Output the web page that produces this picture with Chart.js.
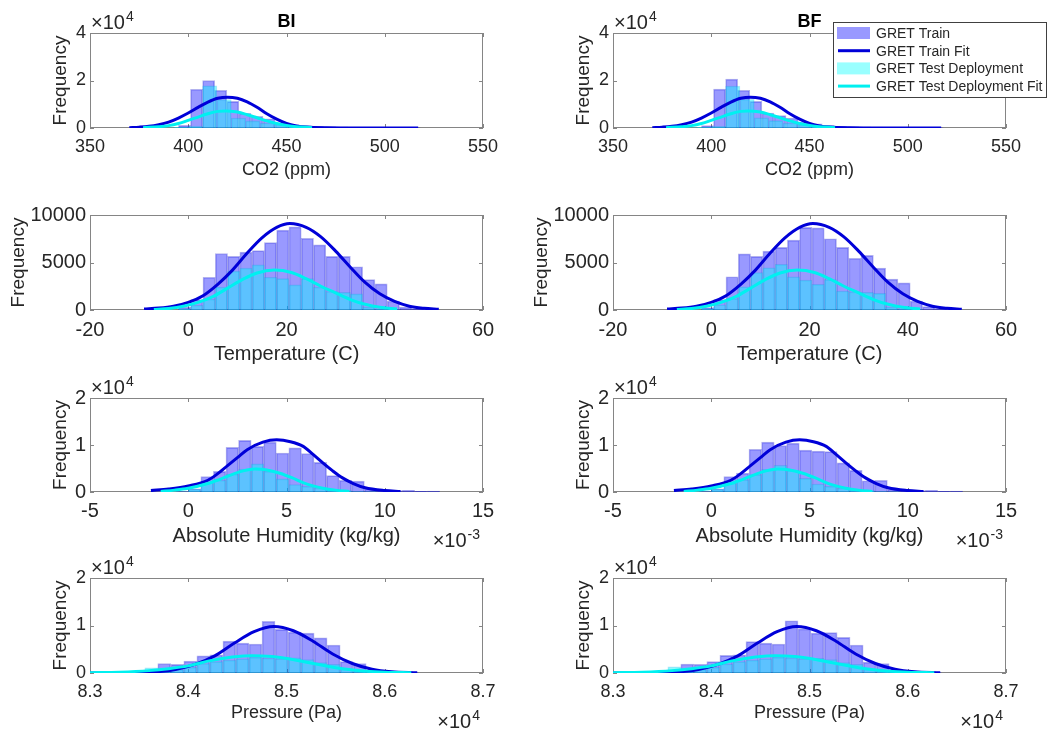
<!DOCTYPE html>
<html>
<head>
<meta charset="utf-8">
<script src="https://cdn.jsdelivr.net/npm/chart.js@4.4.1/dist/chart.umd.min.js"></script>
<style>
  html, body { margin: 0; padding: 0; background: #fff; }
  #fig { position: relative; width: 1060px; height: 730px; overflow: hidden; background: #fff; }
  #fig canvas { position: absolute; }
</style>
</head>
<body>
<div id="fig"></div>
<script>
// ---------- data ----------
// CO2 (ppm)
const co2TrainBins = [398.08, 404.23, 410.38, 416.53, 422.68, 428.83, 434.98, 441.13, 447.28, 453.43, 459.58, 465.73, 471.88, 478.03, 484.18, 490.33, 496.48, 502.63, 508.78, 514.93];
const co2TrainBI = [1100, 16300, 20000, 15900, 11200, 6200, 4900, 3900, 2200, 1400, 1000, 700, 600, 450, 350, 200, 150, 150, 100, 100];
const co2TrainBF = [1000, 16400, 20600, 15900, 11200, 6300, 5200, 4200, 2500, 1800, 1100, 700, 600, 450, 350, 200, 150, 150, 100, 100];
const co2TestBins = [389.05, 396.35, 403.65, 410.95, 418.25, 425.55, 432.85, 440.15, 447.45, 454.75, 462.05, 469.35, 476.65, 483.95, 491.25, 498.55, 505.85, 513.15];
const co2TestBI = [100, 300, 800, 17800, 12000, 4200, 3000, 2100, 1500, 900, 600, 400, 300, 200, 100, 100, 100, 50];
const co2TestBF = [100, 300, 700, 17700, 12100, 4300, 3100, 2100, 1500, 900, 600, 400, 300, 200, 100, 100, 100, 50];
const co2FitTrainX = [370, 375, 380, 385, 390, 395, 400, 405, 410, 415, 420, 425, 430, 435, 440, 445, 450, 455, 460, 470, 480, 490, 517];
const co2FitTrainY = [150, 350, 700, 1400, 2500, 4200, 6300, 8700, 10900, 12500, 13000, 12500, 11000, 8700, 6000, 3700, 1900, 900, 400, 80, 20, 0, 0];
const co2FitTestX = [377, 385, 390, 395, 400, 405, 410, 415, 419, 425, 430, 435, 440, 445, 450, 455, 463];
const co2FitTestY = [150, 550, 1000, 1900, 3200, 4600, 6000, 7000, 7200, 6700, 5600, 4300, 3000, 1900, 1100, 550, 150];

// Temperature (C)
const tempBins = [-0.75, 1.75, 4.25, 6.75, 9.25, 11.75, 14.25, 16.75, 19.25, 21.75, 24.25, 26.75, 29.25, 31.75, 34.25, 36.75, 39.25, 41.75, 44.25, 46.75];
const tempTrainBI = [300, 1100, 3450, 5950, 5650, 6100, 6250, 7100, 8400, 8750, 7550, 6850, 5650, 5650, 4550, 3200, 2750, 950, 300, 100];
const tempTrainBF = [250, 1100, 3500, 5900, 5650, 6200, 6600, 7350, 8700, 8650, 7500, 6600, 5450, 5750, 4400, 3250, 2850, 950, 350, 100];
const tempTestBI = [150, 500, 1150, 2400, 4100, 4400, 4750, 3450, 3300, 2650, 3300, 2400, 1950, 1850, 1700, 300, 100, 50, 0, 0];
const tempTestBF = [150, 550, 1200, 2450, 3950, 4450, 4800, 3500, 3150, 2700, 3200, 2000, 1900, 1850, 1750, 300, 100, 50, 0, 0];
const tempFitTrainX = [-9, -6, -3, 0, 3, 6, 9, 12, 15, 18, 20.7, 24, 27, 30, 33, 36, 39, 42, 45, 48, 51];
const tempFitTrainY = [100, 200, 400, 800, 1500, 2700, 4200, 6000, 7600, 8700, 9100, 8700, 7700, 6200, 4500, 2900, 1700, 900, 400, 180, 80];
const tempFitTestX = [-7, -4, -1, 2, 5, 8, 11, 14, 17.5, 21, 24, 27, 30, 33, 36, 39, 42.5];
const tempFitTestY = [60, 170, 400, 800, 1400, 2300, 3200, 3900, 4200, 3950, 3300, 2500, 1800, 1100, 600, 280, 100];

// Absolute humidity (x10^-3 kg/kg)
const humBins = [-0.32, 0.32, 0.96, 1.60, 2.24, 2.88, 3.52, 4.16, 4.80, 5.44, 6.08, 6.72, 7.36, 8.00, 8.64, 9.28, 9.92, 10.56, 11.20, 11.84, 12.48];
const humTrainBI = [100, 700, 3300, 4400, 9500, 11000, 9700, 10600, 8300, 9400, 8200, 6300, 3500, 2500, 2300, 650, 350, 300, 350, 150, 200];
const humTrainBF = [100, 700, 3300, 4000, 9100, 10600, 9900, 10400, 8900, 8700, 8600, 6200, 4600, 2400, 2500, 600, 350, 300, 350, 150, 200];
const humTestBI = [50, 600, 2000, 2500, 3800, 4900, 6000, 4400, 2800, 1600, 1200, 850, 500, 300, 100, 50, 0, 0, 0, 0, 0];
const humTestBF = [50, 600, 1900, 2600, 3700, 4800, 5700, 4600, 2900, 1700, 1200, 800, 500, 300, 100, 50, 0, 0, 0, 0, 0];
const humFitTrainX = [-1.9, -1, 0, 1, 1.5, 2, 2.5, 3, 3.8, 4.5, 5.2, 5.85, 6.35, 6.85, 7.35, 7.85, 8.4, 9, 10, 10.8];
const humFitTrainY = [300, 650, 1300, 2500, 3900, 5600, 7300, 9000, 10600, 11100, 10700, 9700, 8000, 6200, 4500, 3000, 1800, 900, 300, 100];
const humFitTestX = [-1.4, -0.7, 0, 1, 1.6, 2.15, 2.8, 3.4, 4, 4.66, 5.3, 5.84, 6.35, 6.85, 7.5, 8.2];
const humFitTestY = [130, 400, 800, 1800, 2700, 3600, 4500, 4900, 4700, 4000, 3000, 2000, 1300, 800, 400, 130];

// Pressure (x10^4 Pa)
const presTrainBins = [8.3756, 8.3889, 8.4021, 8.4154, 8.4286, 8.4419, 8.4552, 8.4684, 8.4817, 8.4949, 8.5082, 8.5215, 8.5347, 8.5480, 8.5612, 8.5745, 8.5878, 8.6010, 8.6143, 8.6275];
const presTrainBI = [2000, 1800, 2500, 3600, 3800, 6700, 6300, 6100, 10900, 9200, 8600, 8400, 7400, 5900, 2400, 2000, 600, 350, 200, 100];
const presTrainBF = [1900, 1850, 2400, 3700, 3800, 6600, 6300, 6100, 11000, 9300, 8400, 8500, 7500, 5900, 2300, 2000, 600, 350, 200, 100];
const presTestBins = [8.3491, 8.3624, 8.3756, 8.3889, 8.4021, 8.4154, 8.4286, 8.4419, 8.4552, 8.4684, 8.4817, 8.4949, 8.5082, 8.5215, 8.5347, 8.5480, 8.5612, 8.5745, 8.5878, 8.6010];
const presTestBI = [400, 1100, 700, 700, 1200, 2000, 2400, 2700, 3000, 3300, 3100, 3000, 3200, 2800, 2200, 1800, 800, 400, 200, 100];
const presTestBF = [300, 1300, 700, 750, 1200, 1900, 2400, 2700, 3000, 3300, 3200, 3000, 3100, 2800, 2200, 1800, 800, 400, 200, 100];
const presFitTrainX = [8.30, 8.34, 8.367, 8.387, 8.407, 8.427, 8.447, 8.467, 8.487, 8.507, 8.527, 8.547, 8.567, 8.587, 8.607, 8.633];
const presFitTrainY = [0, 60, 240, 750, 1800, 3600, 6300, 8700, 9800, 8900, 6700, 4000, 2000, 800, 250, 40];
const presFitTestX = [8.30, 8.33, 8.36, 8.38, 8.40, 8.42, 8.445, 8.465, 8.485, 8.51, 8.53, 8.55, 8.57, 8.60, 8.627];
const presFitTestY = [40, 180, 500, 900, 1500, 2500, 3350, 3650, 3450, 2700, 1900, 1100, 600, 180, 50];

// axes text and ticks
const columnTitles = ['BI', 'BF'];
const legendLabels = ['GRET Train', 'GRET Train Fit', 'GRET Test Deployment', 'GRET Test Deployment Fit'];
const xTitles = ['CO2 (ppm)', 'Temperature (C)', 'Absolute Humidity (kg/kg)', 'Pressure (Pa)'];
const xRanges = [[350, 550, 50], [-20, 60, 20], [-5, 15, 5], [8.3, 8.7, 0.1]];
const yRanges = [[0, 40000, 20000], [0, 10000, 5000], [0, 20000, 10000], [0, 20000, 10000]];
const yExponents = ['4', null, '4', '4'];
const xExponents = [null, null, '-3', '4'];

// ---------- layout / style ----------
const FONT = '"Liberation Sans", Arial, Helvetica, sans-serif';
const TEXT = '#262626';
const AXIS = '#858585';
const trainFill = 'rgba(0, 0, 255, 0.4)';
const testFill = 'rgba(0, 255, 255, 0.4)';
const trainEdge = 'rgba(0, 0, 200, 0.3)';
const testEdge = 'rgba(0, 170, 230, 0.3)';
const trainLine = '#0000d8';
const testLine = '#00f0f0';

const rowLayout = [
  { band: [0, 184], plotTop: 33, plotBottom: 128, xTitleY: 170, yTitleGap: 29, tickSize: 18, xTitleSize: 18, tickPad: 8 },
  { band: [184, 368], plotTop: 215, plotBottom: 310, xTitleY: 354, yTitleGap: 71.5, tickSize: 20, xTitleSize: 20, tickPad: 8 },
  { band: [368, 556], plotTop: 398, plotBottom: 492, xTitleY: 536, yTitleGap: 29, tickSize: 20, xTitleSize: 20, tickPad: 7 },
  { band: [556, 730], plotTop: 578, plotBottom: 673, xTitleY: 713, yTitleGap: 29, tickSize: 18, xTitleSize: 18, tickPad: 8 }
];
const colLeft = [90, 613];
const PLOT_W = 393;
const Y_TITLE_SIZE = 19;
const EXP_SIZE = 20;

const panels = [
  { row: 0, col: 0, train: [co2TrainBins, co2TrainBI], test: [co2TestBins, co2TestBI], fitTrain: [co2FitTrainX, co2FitTrainY], fitTest: [co2FitTestX, co2FitTestY] },
  { row: 0, col: 1, train: [co2TrainBins, co2TrainBF], test: [co2TestBins, co2TestBF], fitTrain: [co2FitTrainX, co2FitTrainY], fitTest: [co2FitTestX, co2FitTestY], legend: true },
  { row: 1, col: 0, train: [tempBins, tempTrainBI], test: [tempBins, tempTestBI], fitTrain: [tempFitTrainX, tempFitTrainY], fitTest: [tempFitTestX, tempFitTestY] },
  { row: 1, col: 1, train: [tempBins, tempTrainBF], test: [tempBins, tempTestBF], fitTrain: [tempFitTrainX, tempFitTrainY], fitTest: [tempFitTestX, tempFitTestY] },
  { row: 2, col: 0, train: [humBins, humTrainBI], test: [humBins, humTestBI], fitTrain: [humFitTrainX, humFitTrainY], fitTest: [humFitTestX, humFitTestY] },
  { row: 2, col: 1, train: [humBins, humTrainBF], test: [humBins, humTestBF], fitTrain: [humFitTrainX, humFitTrainY], fitTest: [humFitTestX, humFitTestY] },
  { row: 3, col: 0, train: [presTrainBins, presTrainBI], test: [presTestBins, presTestBI], fitTrain: [presFitTrainX, presFitTrainY], fitTest: [presFitTestX, presFitTestY] },
  { row: 3, col: 1, train: [presTrainBins, presTrainBF], test: [presTestBins, presTestBF], fitTrain: [presFitTrainX, presFitTrainY], fitTest: [presFitTestX, presFitTestY] }
];

function pts(xs, ys) {
  return xs.map((x, i) => ({ x: x, y: ys[i] }));
}

function drawExp(ctx, x, y, exp, size, alignRight) {
  const base = '\u00d710';
  const supSize = Math.round(size * 0.7);
  ctx.font = size + 'px ' + FONT;
  const w1 = ctx.measureText(base).width;
  ctx.font = supSize + 'px ' + FONT;
  const w2 = ctx.measureText(exp).width;
  const x0 = alignRight ? x - w1 - w2 - 1 : x;
  ctx.fillStyle = TEXT;
  ctx.textAlign = 'left';
  ctx.textBaseline = 'alphabetic';
  ctx.font = size + 'px ' + FONT;
  ctx.fillText(base, x0, y);
  ctx.font = supSize + 'px ' + FONT;
  ctx.fillText(exp, x0 + w1 + 1, y - size * 0.42);
}

// MATLAB-like box, inward ticks, exponents, titles and legend
const decorations = {
  id: 'decorations',
  beforeDatasetsDraw(chart) {
    const { ctx, chartArea: a, scales } = chart;
    ctx.save();
    ctx.strokeStyle = AXIS;
    ctx.lineWidth = 1;
    ctx.beginPath();
    scales.x.ticks.forEach(t => {
      const px = Math.round(scales.x.getPixelForValue(t.value)) + 0.5;
      ctx.moveTo(px, a.bottom); ctx.lineTo(px, a.bottom - 4);
      ctx.moveTo(px, a.top); ctx.lineTo(px, a.top + 4);
    });
    scales.y.ticks.forEach(t => {
      const py = Math.round(scales.y.getPixelForValue(t.value)) + 0.5;
      ctx.moveTo(a.left, py); ctx.lineTo(a.left + 4, py);
      ctx.moveTo(a.right, py); ctx.lineTo(a.right - 4, py);
    });
    ctx.stroke();
    ctx.strokeRect(Math.round(a.left) + 0.5, Math.round(a.top) + 0.5, Math.round(a.width) - 1, Math.round(a.height) - 1);
    ctx.restore();
  },
  afterDraw(chart, args, opts) {
    const { ctx, chartArea: a } = chart;
    ctx.save();
    if (opts.title) {
      ctx.font = 'bold 18px ' + FONT;
      ctx.fillStyle = '#000';
      ctx.textAlign = 'center';
      ctx.textBaseline = 'alphabetic';
      ctx.fillText(opts.title, (a.left + a.right) / 2, a.top - 6);
    }
    if (opts.yExp) drawExp(ctx, a.left + 1, a.top - 4, opts.yExp, EXP_SIZE, false);
    if (opts.xExp) drawExp(ctx, a.right - 3, a.bottom + 55, opts.xExp, EXP_SIZE, true);
    if (opts.legend) {
      const items = chart.data.datasets;
      ctx.font = '14px ' + FONT;
      const textW = Math.max(...items.map(d => ctx.measureText(d.label).width));
      const boxW = Math.round(44 + textW + 3), boxH = 75;
      const bx = Math.round(a.right + 40 - boxW), by = Math.round(a.top - 11);
      ctx.fillStyle = '#fff';
      ctx.fillRect(bx, by, boxW, boxH);
      ctx.strokeStyle = '#404040';
      ctx.lineWidth = 1;
      ctx.strokeRect(bx + 0.5, by + 0.5, boxW, boxH);
      items.forEach((d, i) => {
        const cy = by + 11 + i * 17.7;
        if (d.type === 'bar') {
          ctx.fillStyle = d.backgroundColor;
          ctx.fillRect(bx + 4, cy - 6, 33, 12);
        } else {
          ctx.strokeStyle = d.borderColor;
          ctx.lineWidth = 3;
          ctx.beginPath();
          ctx.moveTo(bx + 5, cy); ctx.lineTo(bx + 37, cy);
          ctx.stroke();
        }
        ctx.fillStyle = TEXT;
        ctx.textAlign = 'left';
        ctx.textBaseline = 'middle';
        ctx.fillText(d.label, bx + 43, cy + 1);
      });
    }
    ctx.restore();
  }
};

const fig = document.getElementById('fig');

panels.forEach(p => {
  const L = rowLayout[p.row];
  const [xMin, xMax, xStep] = xRanges[p.row];
  const [yMin, yMax, yStep] = yRanges[p.row];
  const yExp = yExponents[p.row];
  const canvasLeft = p.col * 530;
  const canvasH = L.band[1] - L.band[0];
  const plotLeft = colLeft[p.col] - canvasLeft;
  const yLh = Y_TITLE_SIZE * 1.2;
  const xLh = L.xTitleSize * 1.2;
  const padL = plotLeft - L.yTitleGap - yLh / 2;
  const yW = plotLeft - padL;
  const padR = 530 - (plotLeft + PLOT_W);
  const padT = L.plotTop - L.band[0];
  const xH = L.xTitleY + xLh / 2 - L.plotBottom;
  const padB = L.band[1] - (L.xTitleY + xLh / 2);

  const canvas = document.createElement('canvas');
  canvas.width = 530;
  canvas.height = canvasH;
  canvas.style.left = canvasLeft + 'px';
  canvas.style.top = L.band[0] + 'px';
  canvas.style.width = '530px';
  canvas.style.height = canvasH + 'px';
  fig.appendChild(canvas);

  // each histogram sits on its own hidden x axis so its bars span the full bin
  const histBar = { type: 'bar', borderWidth: 1, grouped: false, barPercentage: 1, categoryPercentage: 1 };
  const fitLine = {
    type: 'line', xAxisID: 'x', borderWidth: 3, pointRadius: 0, fill: false,
    cubicInterpolationMode: 'monotone'
  };

  new Chart(canvas, {
    type: 'bar',
    data: {
      datasets: [
        Object.assign({}, histBar, { label: legendLabels[0], data: pts(p.train[0], p.train[1]), xAxisID: 'xTrain', backgroundColor: trainFill, borderColor: trainEdge, order: 4 }),
        Object.assign({}, fitLine, { label: legendLabels[1], data: pts(p.fitTrain[0], p.fitTrain[1]), borderColor: trainLine, order: 2 }),
        Object.assign({}, histBar, { label: legendLabels[2], data: pts(p.test[0], p.test[1]), xAxisID: 'xTest', backgroundColor: testFill, borderColor: testEdge, order: 3 }),
        Object.assign({}, fitLine, { label: legendLabels[3], data: pts(p.fitTest[0], p.fitTest[1]), borderColor: testLine, order: 1 })
      ]
    },
    options: {
      responsive: false,
      animation: false,
      devicePixelRatio: 1,
      events: [],
      layout: { padding: { left: padL, right: padR, top: padT, bottom: padB } },
      plugins: {
        legend: { display: false },
        tooltip: { enabled: false },
        decorations: {
          title: p.row === 0 ? columnTitles[p.col] : null,
          yExp: yExp, xExp: xExponents[p.row], legend: !!p.legend
        }
      },
      scales: {
        x: {
          type: 'linear', position: 'bottom', min: xMin, max: xMax, offset: false,
          grid: { display: false, drawTicks: false, tickLength: 0 },
          border: { display: false },
          ticks: {
            stepSize: xStep, autoSkip: false, maxRotation: 0, padding: L.tickPad,
            color: TEXT, font: { family: FONT, size: L.tickSize },
            callback: v => (p.row === 3 ? v.toFixed(1) : String(Math.round(v)))
          },
          title: { display: true, text: xTitles[p.row], color: TEXT, padding: 0, font: { family: FONT, size: L.xTitleSize } },
          afterFit: s => { s.height = xH; }
        },
        xTrain: { type: 'linear', min: xMin, max: xMax, display: false, offset: false },
        xTest: { type: 'linear', min: xMin, max: xMax, display: false, offset: false },
        y: {
          type: 'linear', min: yMin, max: yMax,
          grid: { display: false, drawTicks: false, tickLength: 0 },
          border: { display: false },
          ticks: {
            stepSize: yStep, padding: 4, color: TEXT, font: { family: FONT, size: L.tickSize },
            callback: v => String(yExp ? v / 10000 : v)
          },
          title: { display: true, text: 'Frequency', color: TEXT, padding: 0, font: { family: FONT, size: Y_TITLE_SIZE } },
          afterFit: s => { s.width = yW; }
        }
      }
    },
    plugins: [decorations]
  });
});
</script>
</body>
</html>
